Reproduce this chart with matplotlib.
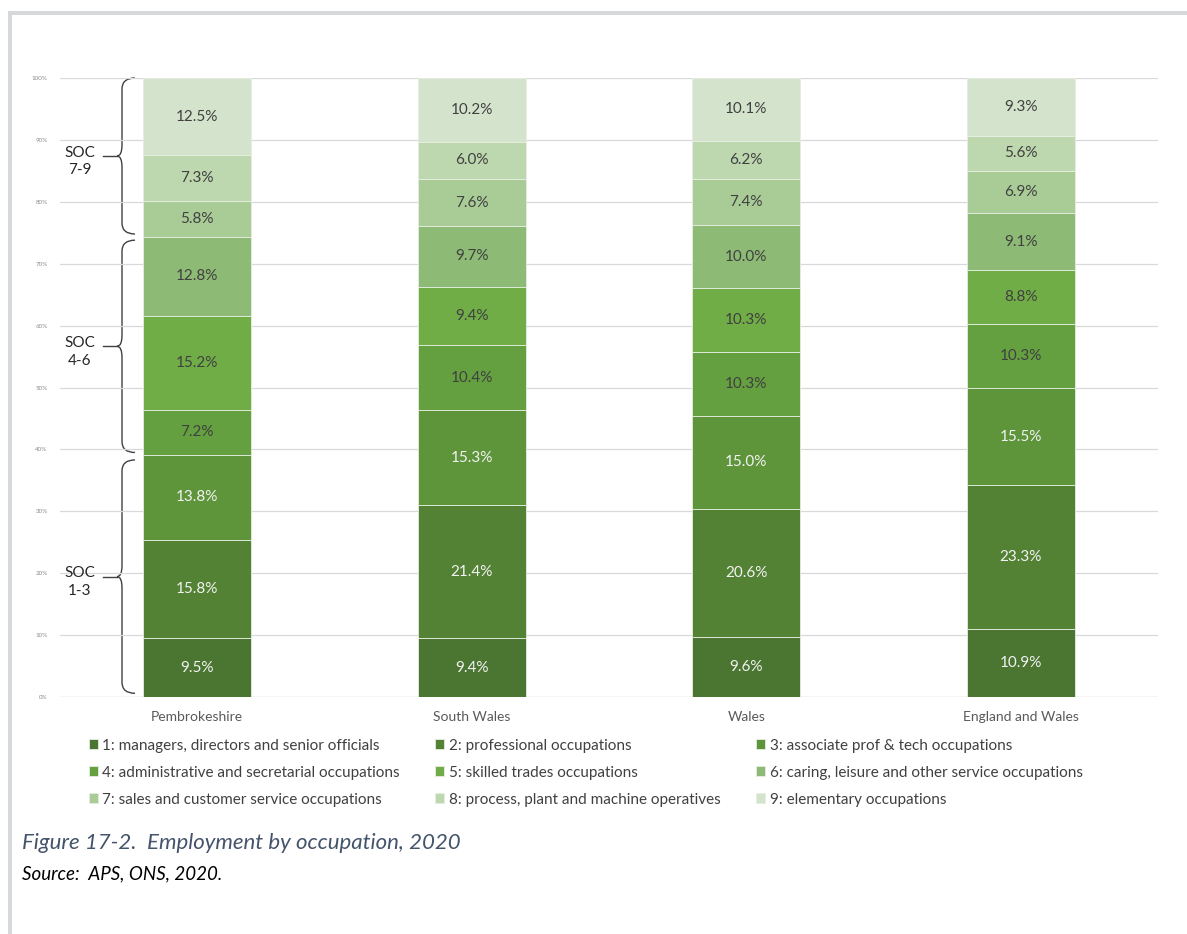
import matplotlib

matplotlib.use("Agg")
import matplotlib.pyplot as plt
from matplotlib.path import Path
from matplotlib.patches import PathPatch, Rectangle
from matplotlib.transforms import blended_transform_factory

plt.rcParams["font.family"] = ["Lato", "DejaVu Sans"]

AREAS = ["Pembrokeshire", "South Wales", "Wales", "England and Wales"]
OCCUPATIONS = [
    "1: managers, directors and senior officials",
    "2: professional occupations",
    "3: associate prof & tech occupations",
    "4: administrative and secretarial occupations",
    "5: skilled trades occupations",
    "6: caring, leisure and other service occupations",
    "7: sales and customer service occupations",
    "8: process, plant and machine operatives",
    "9: elementary occupations",
]
# share of employment (%) by SOC group, one list per occupation, in AREAS order
SOC1 = [9.5, 9.4, 9.6, 10.9]
SOC2 = [15.8, 21.4, 20.6, 23.3]
SOC3 = [13.8, 15.3, 15.0, 15.5]
SOC4 = [7.2, 10.4, 10.3, 10.3]
SOC5 = [15.2, 9.4, 10.3, 8.8]
SOC6 = [12.8, 9.7, 10.0, 9.1]
SOC7 = [5.8, 7.6, 7.4, 6.9]
SOC8 = [7.3, 6.0, 6.2, 5.6]
SOC9 = [12.5, 10.2, 10.1, 9.3]
SERIES = [SOC1, SOC2, SOC3, SOC4, SOC5, SOC6, SOC7, SOC8, SOC9]

COLORS = ["#4b7631", "#548235", "#5e943a", "#64a03f", "#70ad47",
          "#8dba74", "#a9cc97", "#bdd7ae", "#d4e4cc"]

# brace groups: (label, lower %, upper %)
GROUPS = [("SOC\n1-3", 0.6, 38.3), ("SOC\n4-6", 39.5, 73.8), ("SOC\n7-9", 74.8, 100.0)]

W, H = 1187, 934
fig = plt.figure(figsize=(W / 100, H / 100), dpi=100)
ax = fig.add_axes([60 / W, 1 - 697 / H, 1098 / W, 619 / H])

# 100% stacked: normalise each column to its total
totals = [sum(col) for col in zip(*SERIES)]
xs = list(range(len(AREAS)))
bottoms = [0.0] * len(AREAS)
for i, (vals, color) in enumerate(zip(SERIES, COLORS)):
    heights = [v / t * 100 for v, t in zip(vals, totals)]
    ax.bar(xs, heights, bottom=bottoms, width=0.395, color=color,
           edgecolor="#e6eee2", linewidth=0.6, label=OCCUPATIONS[i], zorder=3)
    txt_color = "#f2f2f2" if i < 3 else "#404040"
    for x, b, h, v in zip(xs, bottoms, heights, vals):
        ax.text(x, b + h / 2, f"{v:.1f}%", ha="center", va="center",
                fontsize=11, color=txt_color, zorder=4)
    bottoms = [b + h for b, h in zip(bottoms, heights)]

ax.set_xlim(-0.5, len(AREAS) - 0.5)
ax.set_ylim(0, 100)
ax.set_yticks(range(0, 101, 10))
ax.set_yticklabels([f"{t}%" for t in range(0, 101, 10)], fontsize=4.5, color="#8c8c8c")
ax.set_xticks(xs)
ax.set_xticklabels(AREAS, fontsize=10, color="#595959")
ax.tick_params(axis="both", length=0)
ax.tick_params(axis="y", pad=9)
ax.tick_params(axis="x", pad=10)
ax.grid(axis="y", color="#d9d9d9", lw=0.9, zorder=0)
for s in ax.spines.values():
    s.set_visible(False)
ax.axhline(0, color="#d9d9d9", lw=0.9, zorder=1)

# curly braces grouping the SOC bands
trans = blended_transform_factory(ax.transAxes, ax.transData)
px = 1 / 1098
xv = (122 - 60) * px
xr = xv + 13 * px
xt = xv - 5 * px
hk = 1.8
for label, y0, y1 in GROUPS:
    ym = (y0 + y1) / 2
    verts = [(xr, y1), (xv, y1), (xv, y1 - hk), (xv, ym + hk),
             (xv, ym), (xt, ym), (xv, ym), (xv, ym - hk),
             (xv, y0 + hk), (xv, y0), (xr, y0)]
    codes = [Path.MOVETO, Path.CURVE3, Path.CURVE3, Path.LINETO,
             Path.CURVE3, Path.CURVE3, Path.CURVE3, Path.CURVE3,
             Path.LINETO, Path.CURVE3, Path.CURVE3]
    ax.add_patch(PathPatch(Path(verts, codes), transform=trans, fill=False,
                           lw=1.0, color="#404040", clip_on=False))
    ax.plot([(103 - 60) * px, xt], [ym, ym], transform=trans, color="#404040",
            lw=1.0, clip_on=False)
    ax.text((80 - 60) * px, ym - 0.9, label, transform=trans, ha="center",
            va="center", fontsize=11, color="#262626", linespacing=1.35)

# legend: three columns, filled row by row
order = [0, 3, 6, 1, 4, 7, 2, 5, 8]
handles, labels = ax.get_legend_handles_labels()
leg = ax.legend([handles[k] for k in order], [labels[k] for k in order],
                loc="upper left", bbox_to_anchor=(15 / 1098, -0.045), ncol=3,
                frameon=False, fontsize=11, handlelength=0.6, handleheight=0.6,
                handletextpad=0.3, columnspacing=2.3, labelspacing=0.85)
for t in leg.get_texts():
    t.set_color("#404040")

fig.text(22 / W, 1 - 843 / H, "Figure 17-2.  Employment by occupation, 2020",
         fontsize=16, style="italic", color="#44546a", va="center")
fig.text(22 / W, 1 - 874 / H, "Source:  APS, ONS, 2020.",
         fontsize=13.5, style="italic", color="black", va="center")

# page frame (top and left edges)
fig.add_artist(Rectangle((8 / W, 0), 3.5 / W, 1 - 12 / H, transform=fig.transFigure,
                         color="#d6d9dc", lw=0))
fig.add_artist(Rectangle((8 / W, 1 - 15 / H), 1 - 8 / W, 3.5 / H, transform=fig.transFigure,
                         color="#d6d9dc", lw=0))

fig.savefig("out.png", dpi=100)
